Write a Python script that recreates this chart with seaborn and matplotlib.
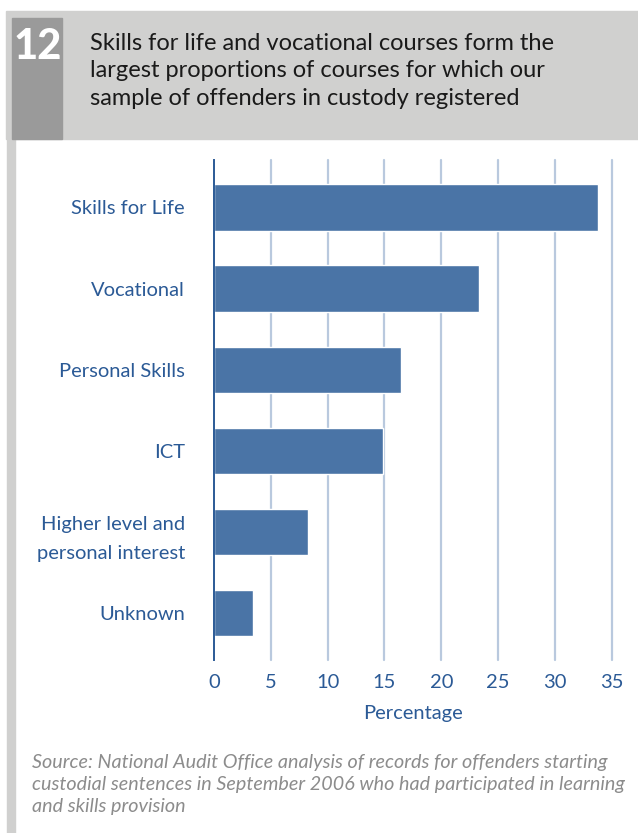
import matplotlib
matplotlib.use("Agg")
import matplotlib.pyplot as plt
from matplotlib.patches import Rectangle
import seaborn as sns
import pandas as pd

categories = ["Skills for Life", "Vocational", "Personal Skills", "ICT",
              "Higher level and\npersonal interest", "Unknown"]
percentages = [33.8, 23.3, 16.5, 14.9, 8.3, 3.4]
x_ticks = [0, 5, 10, 15, 20, 25, 30, 35]

title_number = "12"
title_text = ("Skills for life and vocational courses form the\n"
              "largest proportions of courses for which our\n"
              "sample of offenders in custody registered")
source_text = ("Source: National Audit Office analysis of records for offenders starting\n"
               "custodial sentences in September 2006 who had participated in learning\n"
               "and skills provision")

BAR = "#4a74a6"
INK = "#2b5a96"
GRID = "#b9c9de"
HEAD = "#d0d0cf"
HEAD_DARK = "#9a9a9a"

sns.set_theme(style="white")
plt.rcParams["font.family"] = ["Lato", "DejaVu Sans"]

W, H = 638, 833
fig = plt.figure(figsize=(W / 100, H / 100), dpi=100)
fig.patch.set_facecolor("white")

def fx(px):
    return px / W

def fy(py):
    return 1 - py / H

# header band, number box and left rule
fig.patches.append(Rectangle((fx(6), fy(139)), fx(638 - 6), (139 - 11) / H,
                             transform=fig.transFigure, color=HEAD, zorder=0))
fig.patches.append(Rectangle((fx(12), fy(139)), fx(62 - 12), (139 - 18) / H,
                             transform=fig.transFigure, color=HEAD_DARK, zorder=1))
fig.patches.append(Rectangle((fx(7), 0), fx(8), fy(139),
                             transform=fig.transFigure, color=HEAD, zorder=0))

fig.text(fx(38), fy(47), title_number, color="white", fontsize=30,
         fontweight="black", ha="center", va="center")
fig.text(fx(90), fy(33), title_text, color="#1a1a1a", fontsize=17,
         ha="left", va="top", linespacing=1.38)

# chart
x0, x35 = 214, 611.7
y_top, y_bot = 160, 660
ax = fig.add_axes([fx(x0), fy(y_bot), fx(x35 - x0), (y_bot - y_top) / H])

df = pd.DataFrame({"category": categories, "percentage": percentages})
sns.barplot(data=df, x="percentage", y="category", orient="h", color=BAR,
            width=0.57, saturation=1, ax=ax, zorder=3)

ax.set_xlim(0, 35)
ax.set_ylim(5.58, -0.585)
ax.set_xticks(x_ticks)
ax.set_xticklabels([str(t) for t in x_ticks])
for t in x_ticks[1:]:
    ax.axvline(t, color=GRID, lw=1.6, zorder=1, clip_on=False)

for s in ["top", "right", "bottom"]:
    ax.spines[s].set_visible(False)
ax.spines["left"].set_color(INK)
ax.spines["left"].set_linewidth(1.4)
ax.spines["left"].set_zorder(4)

ax.tick_params(axis="both", length=0, colors=INK, labelsize=14.5)
ax.tick_params(axis="y", pad=21)
ax.tick_params(axis="x", pad=10)
for lab in ax.get_yticklabels():
    lab.set_linespacing(1.8)
ax.set_ylabel("")
ax.set_xlabel("Percentage", color=INK, fontsize=14.5, labelpad=10)
ax.set_facecolor("white")

fig.text(fx(32), fy(754), source_text, color="#8c8c8c", fontsize=14.2,
         style="italic", ha="left", va="top", linespacing=1.37)

fig.savefig("out.png", dpi=100, facecolor="white")
